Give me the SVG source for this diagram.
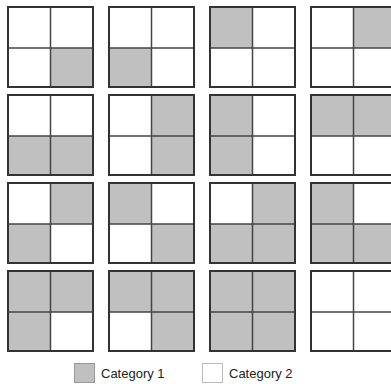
<svg xmlns="http://www.w3.org/2000/svg" width="391" height="384" viewBox="0 0 391 384">
<defs>
<style>
.bg{fill:#fff}
.g{fill:#c0c0c0}
.w{fill:#fff}
.frame{fill:none;stroke:#333;stroke-width:2}
.div{stroke:#444;stroke-width:1.5}
.lbl{font-family:"Liberation Sans",Arial,sans-serif;font-size:13px;fill:#222}
.sw{stroke:#999;stroke-width:1}
</style>
<g id="tile">
<rect class="frame" x="0" y="0" width="85" height="80"/>
</g>
</defs>
<rect class="bg" x="0" y="0" width="391" height="384"/>
<!-- cells: each group at translate(x,y); quadrants TL(0,0) TR(42.5,0) BL(0,41) BR(42.5,41) -->
<g id="n11" transform="translate(8,7)"><rect class="g" x="42.5" y="41" width="42.5" height="39"/><line class="div" x1="42.5" y1="0" x2="42.5" y2="80"/><line class="div" x1="0" y1="41" x2="85" y2="41"/><use href="#tile"/></g>
<g id="n12" transform="translate(109,7)"><rect class="g" x="0" y="41" width="42.5" height="39"/><line class="div" x1="42.5" y1="0" x2="42.5" y2="80"/><line class="div" x1="0" y1="41" x2="85" y2="41"/><use href="#tile"/></g>
<g id="n13" transform="translate(210,7)"><rect class="g" x="0" y="0" width="42.5" height="41"/><line class="div" x1="42.5" y1="0" x2="42.5" y2="80"/><line class="div" x1="0" y1="41" x2="85" y2="41"/><use href="#tile"/></g>
<g id="n14" transform="translate(311,7)"><rect class="g" x="42.5" y="0" width="42.5" height="41"/><line class="div" x1="42.5" y1="0" x2="42.5" y2="80"/><line class="div" x1="0" y1="41" x2="85" y2="41"/><use href="#tile"/></g>

<g id="n21" transform="translate(8,95)"><rect class="g" x="0" y="41" width="85" height="39"/><line class="div" x1="42.5" y1="0" x2="42.5" y2="80"/><line class="div" x1="0" y1="41" x2="85" y2="41"/><use href="#tile"/></g>
<g id="n22" transform="translate(109,95)"><rect class="g" x="42.5" y="0" width="42.5" height="80"/><line class="div" x1="42.5" y1="0" x2="42.5" y2="80"/><line class="div" x1="0" y1="41" x2="85" y2="41"/><use href="#tile"/></g>
<g id="n23" transform="translate(210,95)"><rect class="g" x="0" y="0" width="42.5" height="80"/><line class="div" x1="42.5" y1="0" x2="42.5" y2="80"/><line class="div" x1="0" y1="41" x2="85" y2="41"/><use href="#tile"/></g>
<g id="n24" transform="translate(311,95)"><rect class="g" x="0" y="0" width="85" height="41"/><line class="div" x1="42.5" y1="0" x2="42.5" y2="80"/><line class="div" x1="0" y1="41" x2="85" y2="41"/><use href="#tile"/></g>

<g id="n31" transform="translate(8,183)"><rect class="g" x="42.5" y="0" width="42.5" height="41"/><rect class="g" x="0" y="41" width="42.5" height="39"/><line class="div" x1="42.5" y1="0" x2="42.5" y2="80"/><line class="div" x1="0" y1="41" x2="85" y2="41"/><use href="#tile"/></g>
<g id="n32" transform="translate(109,183)"><rect class="g" x="0" y="0" width="42.5" height="41"/><rect class="g" x="42.5" y="41" width="42.5" height="39"/><line class="div" x1="42.5" y1="0" x2="42.5" y2="80"/><line class="div" x1="0" y1="41" x2="85" y2="41"/><use href="#tile"/></g>
<g id="n33" transform="translate(210,183)"><rect class="g" x="42.5" y="0" width="42.5" height="41"/><rect class="g" x="0" y="41" width="85" height="39"/><line class="div" x1="42.5" y1="0" x2="42.5" y2="80"/><line class="div" x1="0" y1="41" x2="85" y2="41"/><use href="#tile"/></g>
<g id="n34" transform="translate(311,183)"><rect class="g" x="0" y="0" width="42.5" height="41"/><rect class="g" x="0" y="41" width="85" height="39"/><line class="div" x1="42.5" y1="0" x2="42.5" y2="80"/><line class="div" x1="0" y1="41" x2="85" y2="41"/><use href="#tile"/></g>

<g id="n41" transform="translate(8,271)"><rect class="g" x="0" y="0" width="85" height="41"/><rect class="g" x="0" y="41" width="42.5" height="39"/><line class="div" x1="42.5" y1="0" x2="42.5" y2="80"/><line class="div" x1="0" y1="41" x2="85" y2="41"/><use href="#tile"/></g>
<g id="n42" transform="translate(109,271)"><rect class="g" x="0" y="0" width="85" height="41"/><rect class="g" x="42.5" y="41" width="42.5" height="39"/><line class="div" x1="42.5" y1="0" x2="42.5" y2="80"/><line class="div" x1="0" y1="41" x2="85" y2="41"/><use href="#tile"/></g>
<g id="n43" transform="translate(210,271)"><rect class="g" x="0" y="0" width="85" height="80"/><line class="div" x1="42.5" y1="0" x2="42.5" y2="80"/><line class="div" x1="0" y1="41" x2="85" y2="41"/><use href="#tile"/></g>
<g id="n44" transform="translate(311,271)"><line class="div" x1="42.5" y1="0" x2="42.5" y2="80"/><line class="div" x1="0" y1="41" x2="85" y2="41"/><use href="#tile"/></g>

<g id="legend">
<rect class="g sw" x="74.5" y="363.5" width="20" height="19"/>
<text class="lbl" x="101" y="378">Category 1</text>
<rect class="w sw" x="202.5" y="363.5" width="20" height="19" style="stroke:#bbb"/>
<text class="lbl" x="229" y="378">Category 2</text>
</g>
<g id="connectors"/>
</svg>
